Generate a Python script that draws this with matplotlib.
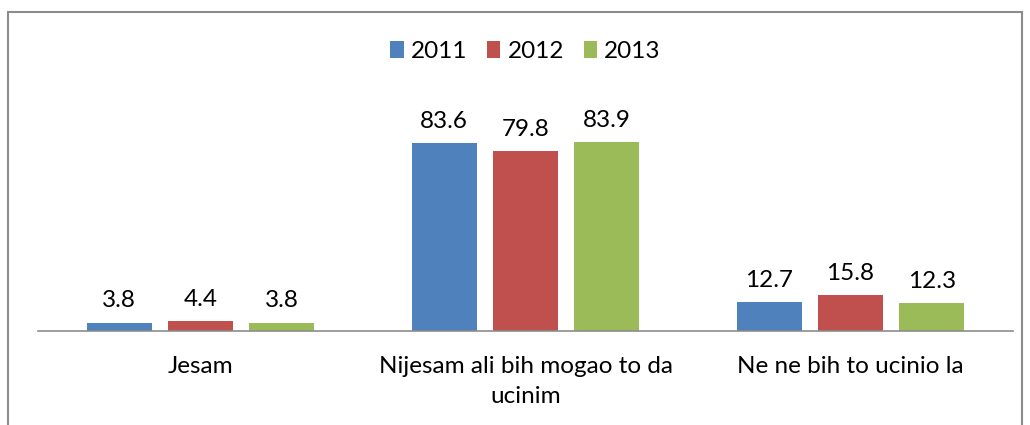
import numpy as np
import matplotlib.pyplot as plt
from matplotlib.patches import Rectangle

categories = ["Jesam", "Nijesam ali bih mogao to da\nucinim", "Ne ne bih to ucinio la"]
years = ["2011", "2012", "2013"]
v2011 = [3.8, 83.6, 12.7]
v2012 = [4.4, 79.8, 15.8]
v2013 = [3.8, 83.9, 12.3]
colors = ["#4F81BD", "#C0504D", "#9BBB59"]

plt.rcParams['font.family'] = ['Lato', 'DejaVu Sans']

fig = plt.figure(figsize=(10.3, 4.25), dpi=100)
ax = fig.add_axes([0.0369, 0.221, 0.9466, 0.530])

x = np.arange(len(categories))
width = 0.2
for i, (vals, yr) in enumerate(zip([v2011, v2012, v2013], years)):
    pos = x + (i - 1) * 0.25
    bars = ax.bar(pos, vals, width, color=colors[i], label=yr)
    for b, v in zip(bars, vals):
        ax.annotate(f"{v:.1f}", (b.get_x() + b.get_width() / 2, v),
                    xytext=(0, 8), textcoords="offset points",
                    ha="center", va="bottom", fontsize=17.5)

ax.set_xlim(-0.5, 2.5)
ax.set_ylim(0, 100)
ax.set_yticks([])
ax.set_xticks(x)
ax.set_xticklabels(categories, fontsize=17.5, linespacing=1.55)
ax.tick_params(axis="x", length=0, pad=18)
for s in ["top", "right", "left"]:
    ax.spines[s].set_visible(False)
ax.spines["bottom"].set_color("#8C8C8C")
ax.spines["bottom"].set_linewidth(1.2)

ax.legend(loc="center", bbox_to_anchor=(0.5, 1.24), ncol=3, frameon=False,
          fontsize=17.5, handlelength=0.55, handleheight=0.7, handletextpad=0.3,
          columnspacing=0.8)

fig.patches.append(Rectangle((8 / 1030, -0.1), 1014 / 1030, 1 - 12 / 425 + 0.1,
                             transform=fig.transFigure, fill=False,
                             edgecolor="#8C8C8C", linewidth=1.5))

fig.savefig("out.png", dpi=100)
